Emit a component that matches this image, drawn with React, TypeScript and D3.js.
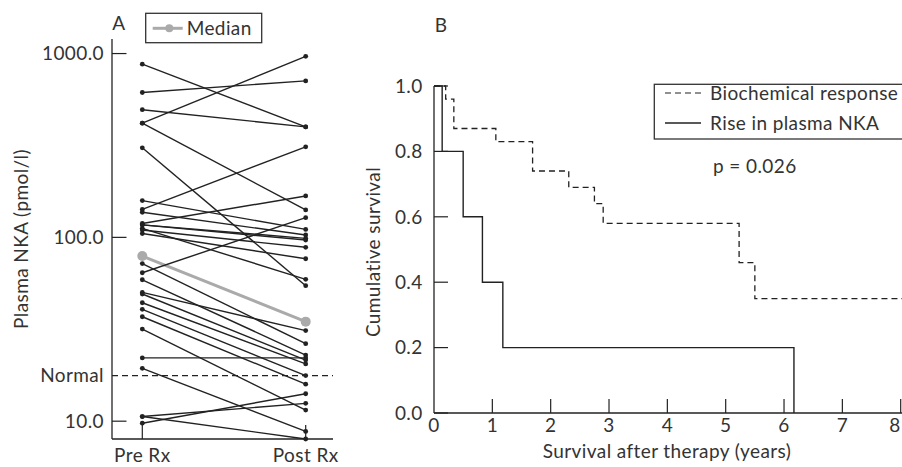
import React from 'react';
import * as d3 from 'd3';

// Panel A: plasma NKA (pmol/l) before and after therapy, pre[i] pairs with post[i]
const preValues = [875, 614, 495, 418, 418, 307, 158.5, 142, 137, 119, 117, 112, 109.6, 105, 72, 64.2, 58.8, 50.2, 49.2, 44.1, 40.6, 37, 31.7, 22.1, 19.4, 10.6, 10.6, 9.75, 117];
const postValues = [399, 710, 399, 966, 141, 54.6, 110.5, 311, 103, 168, 96.7, 59.1, 88.3, 76.5, 26.4, 128, 22.9, 31.1, 21.5, 20.5, 17.7, 15.9, 11.5, 22.1, 8.8, 12.5, 8.0, 14.1, 98.8];
const medianValues = [79.1, 34.8];
const normalLevel = 17.7;
const groups = ['Pre Rx', 'Post Rx'];
const logTicks = [10, 100, 1000];

// Panel B: Kaplan-Meier curves
const bioTimes = [0, 0.2, 0.34, 1.06, 1.69, 2.31, 2.75, 2.9, 5.23, 5.5, 8.3];
const bioSurv = [1.0, 0.96, 0.87, 0.83, 0.74, 0.69, 0.64, 0.58, 0.46, 0.35, 0.35];
const riseTimes = [0, 0.14, 0.5, 0.83, 1.18, 6.17];
const riseSurv = [1.0, 0.8, 0.6, 0.4, 0.2, 0.0];
const yearTicks = [0, 1, 2, 3, 4, 5, 6, 7, 8];
const survTicks = [0, 0.2, 0.4, 0.6, 0.8, 1.0];

const FONT = 'Lato, "Open Sans", sans-serif';
const INK = '#222';
const TXT = '#333';
const FS = 19;
const LS = 0.4;

export default function App() {
  // panel A scales
  const xA = d3.scalePoint<string>().domain(groups).range([142.3, 305.7]);
  const yA = d3.scaleLog().domain([8, 1200]).range([439, 39]);
  const pairs = preValues.map((p, i) => [p, postValues[i]]);

  // panel B scales
  const xB = d3.scaleLinear().domain([0, 8]).range([434, 900.7]);
  const yB = d3.scaleLinear().domain([0, 1]).range([413, 86]);
  const km = d3.line<[number, number]>()
    .x(d => xB(d[0]))
    .y(d => yB(d[1]))
    .curve(d3.curveStepAfter);
  const bioPts = bioTimes.map((t, i) => [t, bioSurv[i]] as [number, number]);
  const risePts = riseTimes.map((t, i) => [t, riseSurv[i]] as [number, number]);

  return (
    <svg width={902} height={467} style={{ display: 'block', background: '#fff' }} fontFamily={FONT} letterSpacing={LS}>
      <style>{`body{margin:0}`}</style>

      {/* ===== Panel A ===== */}
      <text x={119} y={29.5} fontSize={FS} fill={TXT} textAnchor="middle">A</text>
      <rect x={145.7} y={13.3} width={116} height={29.4} fill="none" stroke={TXT} strokeWidth={1.3} />
      <line x1={152.7} x2={182.7} y1={28.3} y2={28.3} stroke="#aaa" strokeWidth={3} />
      <circle cx={169.3} cy={28.3} r={4} fill="#aaa" />
      <text x={186.7} y={34.8} fontSize={FS} fill={TXT}>Median</text>

      <line x1={112} x2={112} y1={39} y2={439} stroke={INK} strokeWidth={1.3} />
      <line x1={112} x2={333} y1={439} y2={439} stroke={INK} strokeWidth={1.3} />
      {logTicks.map(t => (
        <g key={t}>
          <line x1={112} x2={126.5} y1={yA(t)} y2={yA(t)} stroke={INK} strokeWidth={1.2} />
          <text x={104} y={yA(t)} dy="0.36em" fontSize={FS} fill={TXT} textAnchor="end">{t.toFixed(1)}</text>
        </g>
      ))}
      {groups.map(g => (
        <g key={g}>
          <line x1={xA(g)} x2={xA(g)} y1={439} y2={425} stroke={INK} strokeWidth={1.2} />
          <text x={xA(g)} y={455} dy="0.36em" fontSize={FS} fill={TXT} textAnchor="middle">{g}</text>
        </g>
      ))}
      <line x1={112} x2={333} y1={yA(normalLevel)} y2={yA(normalLevel)} stroke={INK} strokeWidth={1.2} strokeDasharray="6,4" />
      <text x={104} y={yA(normalLevel)} dy="0.36em" fontSize={FS} fill={TXT} textAnchor="end">Normal</text>
      <text transform="translate(21,239) rotate(-90)" fontSize={FS} fill={TXT} textAnchor="middle" dy="0.36em">Plasma NKA (pmol/l)</text>

      <line x1={xA('Pre Rx')} x2={xA('Post Rx')} y1={yA(medianValues[0])} y2={yA(medianValues[1])} stroke="#aaa" strokeWidth={3} />
      <circle cx={xA('Pre Rx')} cy={yA(medianValues[0])} r={5} fill="#aaa" />
      <circle cx={xA('Post Rx')} cy={yA(medianValues[1])} r={5} fill="#aaa" />
      {pairs.map((p, i) => (
        <g key={i}>
          <line x1={xA('Pre Rx')} x2={xA('Post Rx')} y1={yA(p[0])} y2={yA(p[1])} stroke={INK} strokeWidth={1.4} />
          <circle cx={xA('Pre Rx')} cy={yA(p[0])} r={2.4} fill={INK} />
          <circle cx={xA('Post Rx')} cy={yA(p[1])} r={2.4} fill={INK} />
        </g>
      ))}

      {/* ===== Panel B ===== */}
      <text x={441} y={31.5} fontSize={FS} fill={TXT} textAnchor="middle">B</text>
      <line x1={434} x2={434} y1={86} y2={413} stroke={INK} strokeWidth={1.3} />
      <line x1={434} x2={902} y1={413} y2={413} stroke={INK} strokeWidth={1.3} />
      {survTicks.map(t => (
        <g key={t}>
          <line x1={434} x2={448} y1={yB(t)} y2={yB(t)} stroke={INK} strokeWidth={1.2} />
          <text x={422.7} y={yB(t)} dy="0.36em" fontSize={FS} fill={TXT} textAnchor="end">{t.toFixed(1)}</text>
        </g>
      ))}
      {yearTicks.map(t => (
        <g key={t}>
          {t > 0 && <line x1={xB(t)} x2={xB(t)} y1={413} y2={399} stroke={INK} strokeWidth={1.2} />}
          <text x={Math.min(xB(t), 895)} y={425.5} dy="0.36em" fontSize={FS} fill={TXT} textAnchor="middle">{t}</text>
        </g>
      ))}
      <text x={667} y={451} dy="0.36em" fontSize={FS} fill={TXT} textAnchor="middle">Survival after therapy (years)</text>
      <text transform="translate(373,252) rotate(-90)" fontSize={FS} fill={TXT} textAnchor="middle" dy="0.36em">Cumulative survival</text>

      <path d={km(risePts) || ''} fill="none" stroke={INK} strokeWidth={1.4} />
      <path d={km(bioPts) || ''} fill="none" stroke={INK} strokeWidth={1.3} strokeDasharray="6,4" />

      <rect x={654.3} y={84.3} width={300} height={54.7} fill="#fff" stroke={TXT} strokeWidth={1.3} />
      <line x1={665} x2={701} y1={93} y2={93} stroke={INK} strokeWidth={1.2} strokeDasharray="6,4" />
      <text x={710} y={93} dy="0.36em" fontSize={FS} fill={TXT}>Biochemical response</text>
      <line x1={665} x2={701} y1={123} y2={123} stroke={INK} strokeWidth={1.3} />
      <text x={710} y={123} dy="0.36em" fontSize={FS} fill={TXT}>Rise in plasma NKA</text>
      <text x={713} y={165.7} dy="0.36em" fontSize={FS} fill={TXT}>p = 0.026</text>
    </svg>
  );
}
